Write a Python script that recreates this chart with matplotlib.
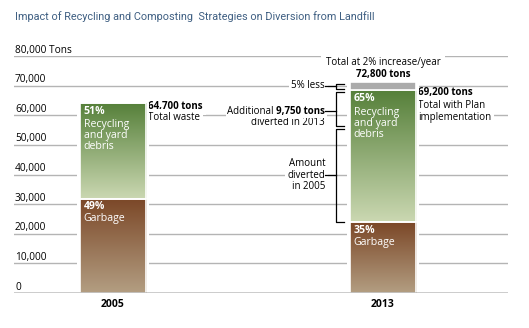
import numpy as np
from matplotlib import pyplot as plt
from matplotlib.colors import LinearSegmentedColormap

plt.rcParams['font.family'] = ['Open Sans', 'DejaVu Sans']

SMALL_SIZE = 7
BAR_SIZE = 7.6

years = ['2005', '2013']
garbage = [31800, 23900]
recycling = [32400, 44500]
reduction = [0, 2700]
garbage_pct = ['49%', '35%']
recycling_pct = ['51%', '65%']
y_ticks = [0, 10000, 20000, 30000, 40000, 50000, 60000, 70000, 80000]
y_labels = ['0', '10,000', '20,000', '30,000', '40,000', '50,000', '60,000', '70,000', '80,000 Tons']

# brackets left of the 2013 bar: (top, bottom, leader)
brackets = [(70550, 68860, 69970), (67850, 56370, 61430), (55360, 23970, 39830)]

GREEN = ('#cbd8b2', '#56803a')
BROWN = ('#b39e82', '#7b4727')
GRID = '#b4b4b4'
TITLE_COLOR = '#3f5f82'


def gradient(ax, patch, colors):
    x0, y0 = patch.get_x(), patch.get_y()
    w, h = patch.get_width(), patch.get_height()
    cmap = LinearSegmentedColormap.from_list('g', list(colors))
    grad = np.linspace(0, 1, 256).reshape(-1, 1)
    im = ax.imshow(grad, extent=[x0, x0 + w, y0, y0 + h], origin='lower',
                   cmap=cmap, aspect='auto', zorder=2, interpolation='bilinear')
    im.set_clip_path(patch)


fig = plt.figure(figsize=(5.29, 3.28), dpi=100)
ax = fig.add_axes([14 / 529, 35 / 328, 494 / 529, 237 / 328])

x = np.arange(len(years))
width = 0.248
tops_g = np.array(garbage)
tops_r = tops_g + np.array(recycling)
tops_all = tops_r + np.array(reduction)

# gridlines
for t in y_ticks[1:]:
    ax.axhline(t, color=GRID, lw=1.0, zorder=0)
ax.axhline(0, color='black', lw=1.0, zorder=5)

# white backdrop so the gridlines stop short of the bars
ax.bar(x, tops_all, width=width + 0.022, color='white', zorder=1)

bars_g = ax.bar(x, garbage, width=width, color='none', edgecolor='white', lw=1.2, zorder=3)
bars_r = ax.bar(x, recycling, bottom=garbage, width=width, color='none',
                edgecolor='white', lw=1.2, zorder=3)
bars_x = ax.bar(x, reduction, bottom=tops_r, width=width, color='#ababab',
                edgecolor='white', lw=1.2, zorder=3)

for b in bars_g:
    gradient(ax, b, BROWN)
for b in bars_r:
    gradient(ax, b, GREEN)

# labels inside bars
for i in range(len(years)):
    left = x[i] - width / 2
    ax.annotate(recycling_pct[i], (left, tops_r[i]), xytext=(4, -8.5), textcoords='offset pixels',
                color='white', fontweight='bold', fontsize=BAR_SIZE, va='center', zorder=6)
    ax.annotate('Recycling\nand yard\ndebris', (left, tops_r[i]), xytext=(4, -33),
                textcoords='offset pixels', color='white', fontsize=BAR_SIZE,
                va='center', linespacing=1.0, zorder=6)
    ax.annotate(garbage_pct[i], (left, tops_g[i]), xytext=(4, -8), textcoords='offset pixels',
                color='white', fontweight='bold', fontsize=BAR_SIZE, va='center', zorder=6)
    ax.annotate('Garbage', (left, tops_g[i]), xytext=(4, -20), textcoords='offset pixels',
                color='white', fontsize=BAR_SIZE, va='center', zorder=6)

# white boxes behind text break the gridlines; keep them under bars and brackets
box = dict(facecolor='white', edgecolor='none', pad=2)
TZ = 0.5

# y labels
for t, lab in zip(y_ticks, y_labels):
    ax.annotate(lab, (0, t), xycoords=('axes fraction', 'data'), xytext=(1, 3.5),
                textcoords='offset pixels', fontsize=7.3, va='baseline', zorder=6)

# 2005 right labels
r05 = x[0] + width / 2
ax.annotate('64,700 tons', (r05, tops_r[0]), xytext=(2, -4), textcoords='offset pixels',
            fontsize=SMALL_SIZE, fontweight='bold', va='center', zorder=TZ, bbox=box)
ax.annotate('Total waste', (r05, tops_r[0]), xytext=(2, -14.5), textcoords='offset pixels',
            fontsize=SMALL_SIZE, va='center', zorder=TZ, bbox=box)

# 2013 right labels
r13 = x[1] + width / 2
ax.annotate('69,200 tons', (r13, tops_r[1]), xytext=(2, -2.5), textcoords='offset pixels',
            fontsize=SMALL_SIZE, fontweight='bold', va='center', zorder=TZ)
ax.annotate('Total with Plan\nimplementation', (r13, tops_r[1]), xytext=(2, -21.5),
            textcoords='offset pixels', fontsize=SMALL_SIZE, va='center',
            linespacing=1.15, zorder=TZ, bbox=box)

# top label
ax.annotate('Total at 2% increase/year', (x[1], tops_all[1]), xytext=(0, 20),
            textcoords='offset pixels', fontsize=SMALL_SIZE, ha='center', va='center',
            zorder=TZ, bbox=dict(facecolor='white', edgecolor='none', pad=3.5))
ax.annotate('72,800 tons', (x[1], tops_all[1]), xytext=(0, 8),
            textcoords='offset pixels', fontsize=SMALL_SIZE, fontweight='bold',
            ha='center', va='center', zorder=TZ)

# brackets
l13 = x[1] - width / 2
xv = l13 - 0.05
xt = l13 - 0.02
xl = l13 - 0.09
for top, bot, lead in brackets:
    ax.plot([xt, xv, xv, xt], [top, top, bot, bot], color='black', lw=0.9, zorder=4)
    ax.plot([xl, xv], [lead, lead], color='black', lw=0.9, zorder=4)

ax.text(xl, brackets[0][2], '5% less', fontsize=SMALL_SIZE, ha='right', va='center',
        zorder=TZ, bbox=box)
ax.annotate('diverted in 2013', (xl, brackets[1][2]), xytext=(0, -11),
            textcoords='offset pixels', fontsize=SMALL_SIZE, ha='right', va='center',
            zorder=TZ, bbox=dict(facecolor='white', edgecolor='none', pad=1))
t_add = ax.text(xl, brackets[1][2], '9,750 tons', fontsize=SMALL_SIZE, fontweight='bold',
                ha='right', va='center', zorder=TZ + 0.2,
                bbox=dict(facecolor='white', edgecolor='none', pad=1))
ax.annotate('Additional ', (0, 0), xycoords=t_add, ha='right', va='bottom',
            fontsize=SMALL_SIZE, zorder=TZ + 0.1,
            bbox=dict(facecolor='white', edgecolor='none', pad=1))
ax.text(xl, brackets[2][2], 'Amount\ndiverted\nin 2005', fontsize=SMALL_SIZE, ha='right',
        va='center', linespacing=1.1, zorder=TZ, bbox=box)

ax.set_xlim(-0.3667, 1.463)
ax.set_ylim(0, 80000)
ax.set_xticks(x, years, fontweight='bold', fontsize=7.5)
ax.tick_params(axis='x', length=0, pad=4)
ax.set_yticks([])
for s in ax.spines.values():
    s.set_visible(False)

fig.text(15 / 529, 1 - 17 / 328, 'Impact of Recycling and Composting  Strategies on Diversion from Landfill',
         family=['Roboto', 'DejaVu Sans'], fontsize=7.85,
         color=TITLE_COLOR, va='center')

plt.savefig('out.png', dpi=100)
plt.close()
